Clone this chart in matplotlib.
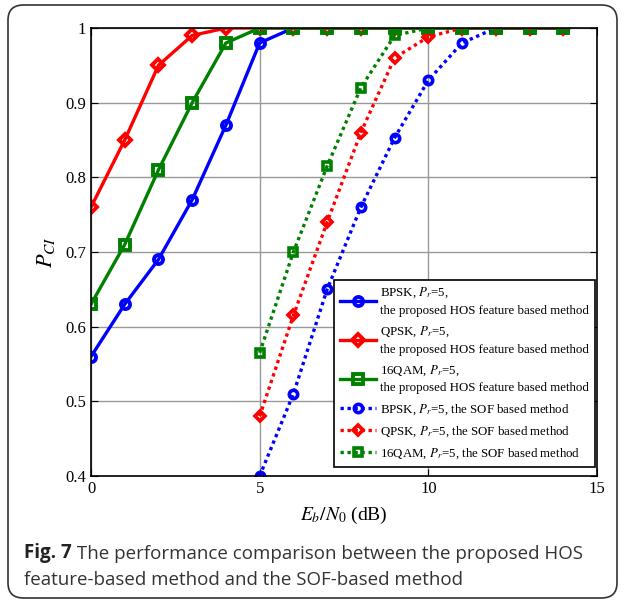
import matplotlib.pyplot as plt
import numpy as np
from matplotlib.patches import FancyBboxPatch

plt.rcParams['font.family'] = 'Liberation Serif'
plt.rcParams['mathtext.fontset'] = 'stix'

# data
snr_hos = np.arange(0, 15)
snr_sof = np.arange(5, 15)

bpsk_hos = [0.56, 0.63, 0.69, 0.77, 0.87, 0.98, 1.0, 1.0, 1.0, 1.0, 1.0, 1.0, 1.0, 1.0, 1.0]
qpsk_hos = [0.76, 0.85, 0.95, 0.99, 1.0, 1.0, 1.0, 1.0, 1.0, 1.0, 1.0, 1.0, 1.0, 1.0, 1.0]
qam16_hos = [0.63, 0.71, 0.81, 0.90, 0.98, 1.0, 1.0, 1.0, 1.0, 1.0, 1.0, 1.0, 1.0, 1.0, 1.0]

bpsk_sof = [0.40, 0.51, 0.65, 0.76, 0.853, 0.93, 0.98, 1.0, 1.0, 1.0]
qpsk_sof = [0.48, 0.615, 0.74, 0.86, 0.96, 0.988, 1.0, 1.0, 1.0, 1.0]
qam16_sof = [0.565, 0.70, 0.815, 0.92, 0.99, 1.0, 1.0, 1.0, 1.0, 1.0]

labels = [
    'BPSK, $P_r$=5,\nthe proposed HOS feature based method',
    'QPSK, $P_r$=5,\nthe proposed HOS feature based method',
    '16QAM, $P_r$=5,\nthe proposed HOS feature based method',
    'BPSK, $P_r$=5, the SOF based method',
    'QPSK, $P_r$=5, the SOF based method',
    '16QAM, $P_r$=5, the SOF based method',
]

fig = plt.figure(figsize=(6.25, 6.02), dpi=100)
ax = fig.add_axes([0.1456, 0.2093, 0.8096, 0.7442])

dot = (0, (1, 1.1))
lw = 2.4
ax.plot(snr_hos, bpsk_hos, color='#0000FF', lw=lw, marker='o', ms=6.5, mfc='none', mew=2.8, label=labels[0])
ax.plot(snr_hos, qpsk_hos, color='#FF0000', lw=lw, marker='D', ms=6.5, mfc='none', mew=2.8, label=labels[1])
ax.plot(snr_hos, qam16_hos, color='#008000', lw=lw, marker='s', ms=6.5, mfc='none', mew=2.8, label=labels[2])
ax.plot(snr_sof, bpsk_sof, color='#0000FF', lw=lw, ls=dot, dash_capstyle='butt', marker='o', ms=6, mfc='none', mew=2.6, label=labels[3])
ax.plot(snr_sof, qpsk_sof, color='#FF0000', lw=lw, ls=dot, dash_capstyle='butt', marker='D', ms=5.5, mfc='none', mew=2.6, label=labels[4])
ax.plot(snr_sof, qam16_sof, color='#008000', lw=lw, ls=dot, dash_capstyle='butt', marker='s', ms=5.5, mfc='none', mew=2.6, label=labels[5])

ax.set_xlim(0, 15)
ax.set_ylim(0.4, 1.0)
ax.set_xticks([0, 5, 10, 15])
ax.set_yticks([0.4, 0.5, 0.6, 0.7, 0.8, 0.9, 1.0])
ax.set_yticklabels(['0.4', '0.5', '0.6', '0.7', '0.8', '0.9', '1'])
ax.tick_params(direction='in', top=True, right=True, labelsize=12, length=5)
ax.grid(color='#999999', lw=1)
for s in ax.spines.values():
    s.set_linewidth(1.2)
ax.set_xlabel('$E_b/N_0$ (dB)', fontsize=14, labelpad=6)
ax.set_ylabel('$P_{CI}$', fontsize=16, labelpad=6)

leg = ax.legend(loc='lower right', bbox_to_anchor=(595 / 625, 1 - 467 / 602),
                bbox_transform=fig.transFigure, borderaxespad=0,
                fontsize=9.3, handlelength=2.8, frameon=True,
                fancybox=False, edgecolor='black', framealpha=1,
                labelspacing=0.6, handletextpad=0.3, borderpad=0.45)
leg.get_frame().set_linewidth(1.2)
for t in leg.get_texts():
    t.set_linespacing(1.5)

# caption
border = FancyBboxPatch((8 / 625, 4 / 602), 609 / 625, 593 / 602,
                        boxstyle='round,pad=0,rounding_size=0.025',
                        transform=fig.transFigure, fill=False, lw=1.2,
                        edgecolor='#333333')
fig.patches.append(border)

t1 = fig.text(24 / 625, 1 - 558 / 602, 'Fig. 7', fontsize=13.5, fontweight='bold',
              family='Open Sans', color='#222222')
ax.annotate(' The performance comparison between the proposed HOS',
            xy=(1, 0), xycoords=t1, va='bottom', ha='left',
            fontsize=13.5, family='Open Sans', color='#333333', annotation_clip=False)
fig.text(24 / 625, 1 - 585 / 602, 'feature-based method and the SOF-based method',
         fontsize=13.5, family='Open Sans', color='#333333')

fig.savefig('out.png', dpi=100)
